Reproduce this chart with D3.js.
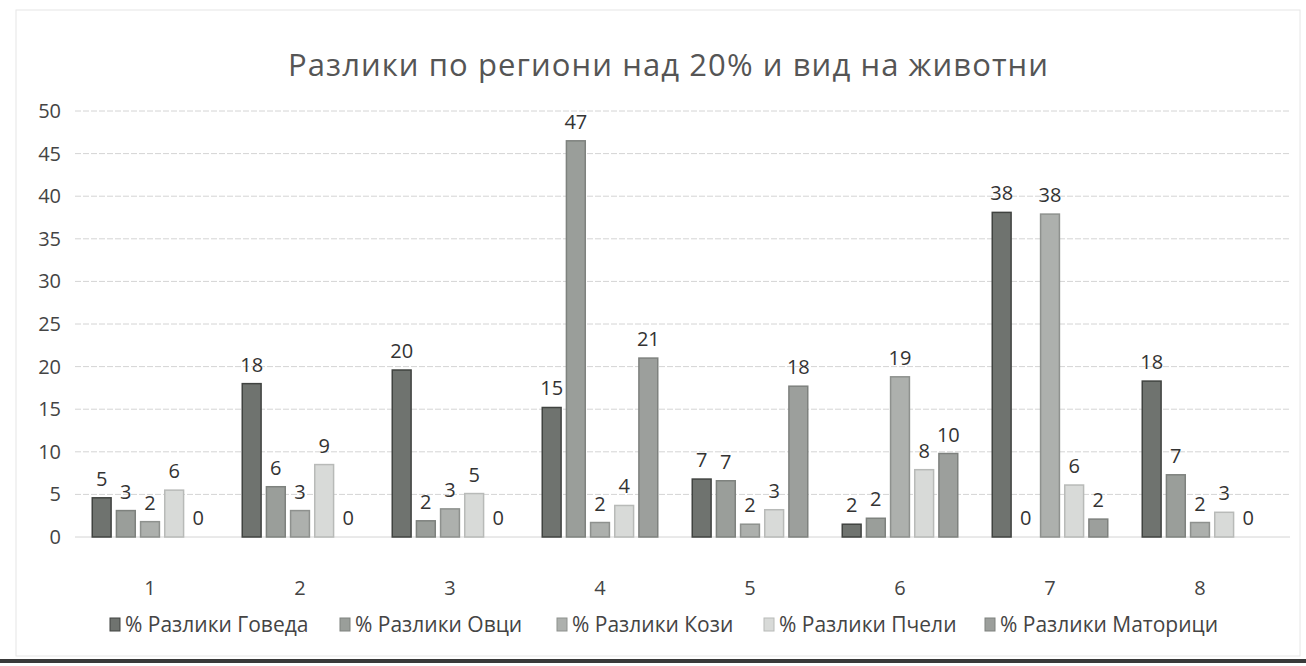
<!DOCTYPE html>
<html>
<head>
<meta charset="utf-8">
<script src="https://cdn.jsdelivr.net/npm/d3@7"></script>
<style>
  body { margin: 0; background: #fff; }
  text { font-family: "Open Sans", "Noto Sans", sans-serif; }
</style>
</head>
<body>
<svg id="chart" width="1306" height="666" viewBox="0 0 1306 666"></svg>
<script>
// regions and series
const regions = ["1", "2", "3", "4", "5", "6", "7", "8"];
const seriesNames = ["% Разлики Говеда", "% Разлики Овци", "% Разлики Кози", "% Разлики Пчели", "% Разлики Маторици"];
const goveda   = [4.6, 18.0, 19.6, 15.2, 6.8, 1.5, 38.1, 18.3];
const ovci     = [3.1, 5.9, 1.9, 46.5, 6.6, 2.2, 0, 7.3];
const kozi     = [1.8, 3.1, 3.3, 1.7, 1.5, 18.8, 37.9, 1.7];
const pcheli   = [5.5, 8.5, 5.1, 3.7, 3.2, 7.9, 6.1, 2.9];
const maturici = [0, 0, 0, 21.0, 17.7, 9.8, 2.1, 0];
const yTicks = [0, 5, 10, 15, 20, 25, 30, 35, 40, 45, 50];
const fills   = ["#6f736f", "#9a9e9a", "#adb0ad", "#d8dad8", "#9c9f9c"];
const strokes = ["#404340", "#7e827e", "#8e918e", "#b8bab8", "#7e817e"];

const series = [goveda, ovci, kozi, pcheli, maturici];

const svg = d3.select("#chart");
const margin = { left: 75, right: 1275, top: 111, bottom: 537 };

// faint frame + scan edge line
svg.append("rect").attr("x", 16).attr("y", 10).attr("width", 1284).attr("height", 646)
    .attr("fill", "none").attr("stroke", "#e6e6e6").attr("stroke-width", 1);
svg.append("rect").attr("x", 0).attr("y", 659).attr("width", 1306).attr("height", 4)
    .attr("fill", "#3a3a3a");

const x = d3.scaleBand().domain(regions).range([margin.left, margin.right]).paddingInner(0.23).paddingOuter(0.115);
const xSub = d3.scaleBand().domain(d3.range(seriesNames.length)).range([0, x.bandwidth()]).paddingInner(0.22);
const y = d3.scaleLinear().domain([0, 50]).range([margin.bottom, margin.top]);

// title
svg.append("text")
    .attr("x", 668).attr("y", 76)
    .attr("text-anchor", "middle")
    .attr("font-size", 31)
    .attr("fill", "#555")
    .attr("textLength", 760)
    .attr("lengthAdjust", "spacing")
    .text("Разлики  по региони  над 20% и вид на животни");

// gridlines
svg.append("g").selectAll("line")
    .data(yTicks)
    .enter()
    .append("line")
    .attr("x1", margin.left).attr("x2", margin.right + 15)
    .attr("y1", d => y(d)).attr("y2", d => y(d))
    .attr("stroke", "#d4d4d4")
    .attr("stroke-dasharray", d => d === 0 ? null : "6,2");

// y axis labels
const yAxis = d3.axisLeft(y).tickValues(yTicks).tickSize(0).tickPadding(12);
svg.append("g")
    .attr("transform", `translate(${margin.left - 2},0)`)
    .call(yAxis)
    .call(g => g.select(".domain").remove())
    .selectAll("text")
    .attr("font-size", 20)
    .attr("fill", "#444");

// x axis labels
const xAxis = d3.axisBottom(x).tickSize(0).tickPadding(44);
svg.append("g")
    .attr("transform", `translate(0,${margin.bottom})`)
    .call(xAxis)
    .call(g => g.select(".domain").remove())
    .selectAll("text")
    .attr("font-size", 20)
    .attr("fill", "#444");

// bars
const groups = svg.append("g").selectAll("g")
    .data(regions)
    .enter()
    .append("g")
    .attr("transform", d => `translate(${x(d)},0)`);

const cells = groups.selectAll("g")
    .data((r, i) => series.map((s, k) => ({ k: k, v: s[i] })))
    .enter()
    .append("g");

cells.filter(d => d.v > 0)
    .append("rect")
    .attr("x", d => xSub(d.k))
    .attr("width", xSub.bandwidth())
    .attr("y", d => y(d.v))
    .attr("height", d => y(0) - y(d.v))
    .attr("fill", d => fills[d.k])
    .attr("stroke", d => strokes[d.k])
    .attr("stroke-width", 1.5);

cells.append("text")
    .attr("x", d => xSub(d.k) + xSub.bandwidth() / 2)
    .attr("y", d => y(d.v) - 12)
    .attr("text-anchor", "middle")
    .attr("font-size", 20)
    .attr("fill", "#333")
    .text(d => Math.round(d.v));

// legend
const legendX = [110, 340, 557, 764, 985];
const legend = svg.append("g").selectAll("g")
    .data(seriesNames)
    .enter()
    .append("g")
    .attr("transform", (d, i) => `translate(${legendX[i]},632)`);
legend.append("rect")
    .attr("x", 0).attr("y", -14)
    .attr("width", 10).attr("height", 13)
    .attr("fill", (d, i) => fills[i])
    .attr("stroke", (d, i) => strokes[i]);
legend.append("text")
    .attr("x", 15).attr("y", 0)
    .attr("font-size", 21)
    .attr("fill", "#444")
    .text(d => d);
</script>
</body>
</html>
